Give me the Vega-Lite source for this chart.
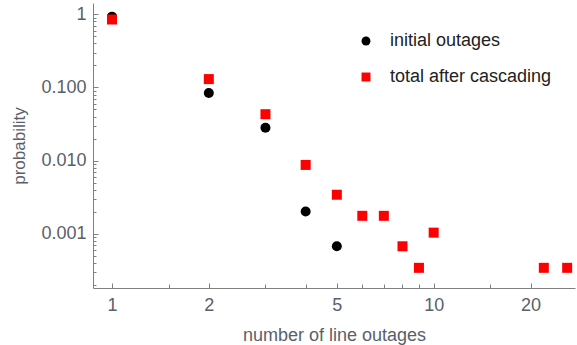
{
  "$schema": "https://vega.github.io/schema/vega-lite/v6.json",
  "width": 482,
  "height": 285,
  "autosize": {"type": "none"},
  "padding": {"left": 93, "top": 3, "right": 2, "bottom": 57},
  "background": "white",
  "config": {
    "view": {"stroke": null},
    "font": "Liberation Sans"
  },
  "data": {
    "values": [
      {"n": 1, "p": 0.93, "series": "initial outages"},
      {"n": 2, "p": 0.084, "series": "initial outages"},
      {"n": 3, "p": 0.028, "series": "initial outages"},
      {"n": 4, "p": 0.002, "series": "initial outages"},
      {"n": 5, "p": 0.00067, "series": "initial outages"},
      {"n": 1, "p": 0.85, "series": "total after cascading"},
      {"n": 2, "p": 0.13, "series": "total after cascading"},
      {"n": 3, "p": 0.043, "series": "total after cascading"},
      {"n": 4, "p": 0.0087, "series": "total after cascading"},
      {"n": 5, "p": 0.0034, "series": "total after cascading"},
      {"n": 6, "p": 0.00175, "series": "total after cascading"},
      {"n": 7, "p": 0.00175, "series": "total after cascading"},
      {"n": 8, "p": 0.00067, "series": "total after cascading"},
      {"n": 9, "p": 0.00034, "series": "total after cascading"},
      {"n": 10, "p": 0.00103, "series": "total after cascading"},
      {"n": 22, "p": 0.00034, "series": "total after cascading"},
      {"n": 26, "p": 0.00034, "series": "total after cascading"}
    ]
  },
  "mark": {"type": "point", "filled": true, "opacity": 1, "size": 100},
  "encoding": {
    "x": {
      "field": "n", "type": "quantitative",
      "scale": {"type": "log", "domain": [0.873, 27.5], "nice": false},
      "axis": {
        "title": "number of line outages",
        "values": [1, 1.5, 2, 3, 4, 5, 6, 7, 8, 9, 10, 15, 20],
        "labelExpr": "indexof([1,2,5,10,20], datum.value) >= 0 ? datum.value + '' : ''",
        "grid": false,
        "domainColor": "#808080",
        "tickColor": "#808080",
        "tickSize": {"condition": {"test": "indexof([1,2,5,10,20], datum.value) >= 0", "value": -5}, "value": -4},
        "labelPadding": 13,
        "labelFontSize": 18,
        "labelColor": "#5a5f6a",
        "titleFontSize": 18,
        "titleFontWeight": "normal",
        "titleColor": "#5a5f6a",
        "titlePadding": 12,
        "labelFlush": false
      }
    },
    "y": {
      "field": "p", "type": "quantitative",
      "scale": {"type": "log", "domain": [0.00018, 1.43], "nice": false},
      "axis": {
        "title": "probability",
        "values": [0.0002, 0.0003, 0.0004, 0.0005, 0.0006, 0.0007, 0.0008, 0.0009, 0.001, 0.002, 0.003, 0.004, 0.005, 0.006, 0.007, 0.008, 0.009, 0.01, 0.02, 0.03, 0.04, 0.05, 0.06, 0.07, 0.08, 0.09, 0.1, 0.2, 0.3, 0.4, 0.5, 0.6, 0.7, 0.8, 0.9, 1],
        "labelExpr": "datum.value == 1 ? '1' : datum.value == 0.1 ? '0.100' : datum.value == 0.01 ? '0.010' : datum.value == 0.001 ? '0.001' : ''",
        "grid": false,
        "domainColor": "#808080",
        "tickColor": "#808080",
        "tickSize": {"condition": {"test": "indexof([1,0.1,0.01,0.001], datum.value) >= 0", "value": -5}, "value": -3},
        "labelPadding": 12,
        "labelFontSize": 18,
        "labelColor": "#5a5f6a",
        "titleFontSize": 17,
        "titleFontWeight": "normal",
        "titleColor": "#5a5f6a",
        "titlePadding": 12,
        "labelFlush": false
      }
    },
    "color": {
      "field": "series", "type": "nominal",
      "scale": {"domain": ["initial outages", "total after cascading"], "range": ["#000000", "#ff0000"]},
      "legend": {
        "title": null,
        "orient": "none",
        "legendX": 264,
        "legendY": 29,
        "padding": 0,
        "symbolSize": 80,
        "labelFontSize": 18,
        "labelColor": "#222222",
        "labelOffset": 15,
        "labelLimit": 400,
        "rowPadding": 18
      }
    },
    "shape": {
      "field": "series", "type": "nominal",
      "scale": {"domain": ["initial outages", "total after cascading"], "range": ["circle", "square"]}
    }
  }
}
